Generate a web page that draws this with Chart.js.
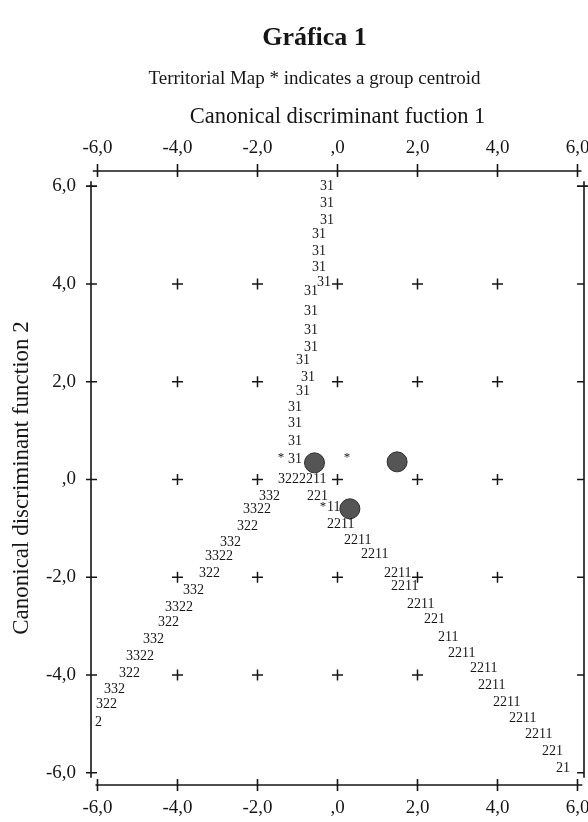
<!DOCTYPE html>
<html>
<head>
<meta charset="utf-8">
<script src="https://cdn.jsdelivr.net/npm/chart.js@4.4.1/dist/chart.umd.min.js"></script>
<style>
  body { margin: 0; background: #fff; }
</style>
</head>
<body>
<canvas id="mapChart" width="588" height="822"></canvas>
<script>
const tickValues = [-6, -4, -2, 0, 2, 4, 6];
const tickLabels = ['-6,0', '-4,0', '-2,0', ',0', '2,0', '4,0', '6,0'];

// territorial boundaries, text (x = left edge of the text)
const region31 = [
  {x: -0.44, y: 6.00, label: '31'}, {x: -0.44, y: 5.65, label: '31'}, {x: -0.44, y: 5.31, label: '31'},
  {x: -0.64, y: 5.02, label: '31'}, {x: -0.64, y: 4.67, label: '31'}, {x: -0.64, y: 4.34, label: '31'},
  {x: -0.51, y: 4.04, label: '31'}, {x: -0.84, y: 3.85, label: '31'}, {x: -0.84, y: 3.43, label: '31'},
  {x: -0.84, y: 3.06, label: '31'}, {x: -0.84, y: 2.71, label: '31'}, {x: -1.04, y: 2.44, label: '31'},
  {x: -0.91, y: 2.08, label: '31'}, {x: -1.04, y: 1.81, label: '31'}, {x: -1.24, y: 1.48, label: '31'},
  {x: -1.24, y: 1.14, label: '31'}, {x: -1.24, y: 0.78, label: '31'}, {x: -1.24, y: 0.42, label: '31'}
];
const region32 = [
  {x: -1.49, y: 0.01, label: '3222211'},
  {x: -1.96, y: -0.34, label: '332'}, {x: -2.36, y: -0.62, label: '3322'}, {x: -2.51, y: -0.95, label: '322'},
  {x: -2.94, y: -1.28, label: '332'}, {x: -3.31, y: -1.58, label: '3322'}, {x: -3.46, y: -1.91, label: '322'},
  {x: -3.86, y: -2.26, label: '332'}, {x: -4.31, y: -2.61, label: '3322'}, {x: -4.49, y: -2.93, label: '322'},
  {x: -4.86, y: -3.26, label: '332'}, {x: -5.29, y: -3.61, label: '3322'}, {x: -5.46, y: -3.96, label: '322'},
  {x: -5.84, y: -4.29, label: '332'}, {x: -6.04, y: -4.61, label: '322'}, {x: -6.06, y: -4.96, label: '2'}
];
const region21 = [
  {x: -0.76, y: -0.34, label: '221'}, {x: -0.26, y: -0.58, label: '11'}, {x: -0.26, y: -0.91, label: '2211'},
  {x: 0.16, y: -1.24, label: '2211'}, {x: 0.59, y: -1.54, label: '2211'}, {x: 1.16, y: -1.91, label: '2211'},
  {x: 1.34, y: -2.19, label: '2211'}, {x: 1.74, y: -2.55, label: '2211'}, {x: 2.16, y: -2.87, label: '221'},
  {x: 2.51, y: -3.22, label: '211'}, {x: 2.76, y: -3.55, label: '2211'}, {x: 3.31, y: -3.86, label: '2211'},
  {x: 3.51, y: -4.21, label: '2211'}, {x: 3.89, y: -4.56, label: '2211'}, {x: 4.29, y: -4.88, label: '2211'},
  {x: 4.69, y: -5.22, label: '2211'}, {x: 5.11, y: -5.57, label: '221'}, {x: 5.46, y: -5.90, label: '21'}
];
const centroidStars = [
  {x: -1.41, y: 0.44, label: '*'}, {x: 0.24, y: 0.44, label: '*'}, {x: -0.36, y: -0.56, label: '*'}
];
const centroids = [
  {x: -0.575, y: 0.34}, {x: 1.49, y: 0.36}, {x: 0.31, y: -0.60}
];
const gridPlus = [
  {x: -4, y: 4}, {x: -2, y: 4}, {x: 0, y: 4}, {x: 2, y: 4}, {x: 4, y: 4},
  {x: -4, y: 2}, {x: -2, y: 2}, {x: 0, y: 2}, {x: 2, y: 2}, {x: 4, y: 2},
  {x: -4, y: 0}, {x: -2, y: 0}, {x: 0, y: 0}, {x: 2, y: 0}, {x: 4, y: 0},
  {x: -4, y: -2}, {x: -2, y: -2}, {x: 0, y: -2}, {x: 2, y: -2}, {x: 4, y: -2},
  {x: -4, y: -4}, {x: -2, y: -4}, {x: 0, y: -4}, {x: 2, y: -4}
];

const ink = '#161616';
const serif = '"Liberation Serif", "DejaVu Serif", serif';

function tickText(value) {
  return tickLabels[tickValues.indexOf(value)];
}
function fixedTicks(scale) {
  scale.ticks = tickValues.map(v => ({value: v}));
}
// fixed axis boxes, no extra room for the end labels
function fitX(height) {
  return s => {
    s.height = height;
    s.paddingLeft = 0;
    s.paddingRight = 0;
  };
}

// axis lines with the cross ticks of the SPSS map
const framePlugin = {
  id: 'frame',
  beforeDatasetsDraw(chart) {
    const {ctx, chartArea, scales: {x, y}} = chart;
    const {left, right, top, bottom} = chartArea;
    ctx.save();
    ctx.strokeStyle = ink;
    ctx.lineWidth = 1.6;
    ctx.beginPath();
    ctx.moveTo(x.getPixelForValue(-6.12), top);
    ctx.lineTo(x.getPixelForValue(6.1), top);
    ctx.moveTo(x.getPixelForValue(-6.05), bottom);
    ctx.lineTo(x.getPixelForValue(6.12), bottom);
    ctx.moveTo(left, y.getPixelForValue(6.1));
    ctx.lineTo(left, y.getPixelForValue(-6.1));
    ctx.moveTo(right, y.getPixelForValue(6.1));
    ctx.lineTo(right, y.getPixelForValue(-6.1));
    tickValues.forEach(v => {
      const px = x.getPixelForValue(v);
      ctx.moveTo(px, top - 7);
      ctx.lineTo(px, top + 6);
      ctx.moveTo(px, bottom - 6);
      ctx.lineTo(px, bottom + 6);
      const py = y.getPixelForValue(v);
      ctx.moveTo(left - 5, py);
      ctx.lineTo(left + 6, py);
      ctx.moveTo(right - 7, py);
      ctx.lineTo(v === 6 ? right + 4 : right, py);
    });
    ctx.stroke();
    ctx.restore();
  }
};

// boundary numbers and centroid stars written as text at their data points
const mapTextPlugin = {
  id: 'mapText',
  afterDatasetsDraw(chart) {
    const ctx = chart.ctx;
    chart.data.datasets.forEach((ds, i) => {
      if (!ds.textFont) return;
      const meta = chart.getDatasetMeta(i);
      ctx.save();
      ctx.font = ds.textFont;
      ctx.fillStyle = ink;
      ctx.textAlign = ds.textAlign;
      ctx.textBaseline = 'middle';
      meta.data.forEach((pt, j) => ctx.fillText(ds.data[j].label, pt.x, pt.y));
      ctx.restore();
    });
  }
};

const textSet = (label, data, align, font) => ({
  label: label,
  data: data,
  pointRadius: 0,
  textFont: font,
  textAlign: align
});

new Chart(document.getElementById('mapChart'), {
  type: 'scatter',
  data: {
    datasets: [
      {
        label: 'grid',
        data: gridPlus,
        pointStyle: 'cross',
        pointRadius: 5.5,
        borderColor: ink,
        borderWidth: 1.5
      },
      {
        label: 'centroids',
        data: centroids,
        pointStyle: 'circle',
        pointRadius: 10,
        backgroundColor: '#555555',
        borderColor: '#2e2e2e',
        borderWidth: 1
      },
      textSet('31', region31, 'left', '14px ' + serif),
      textSet('32', region32, 'left', '14px ' + serif),
      textSet('21', region21, 'left', '14px ' + serif),
      textSet('stars', centroidStars, 'center', '13px ' + serif)
    ]
  },
  options: {
    responsive: false,
    animation: false,
    events: [],
    layout: {autoPadding: false, padding: {left: 45, right: 4, top: 0, bottom: 0}},
    plugins: {
      legend: {display: false},
      tooltip: {enabled: false},
      title: {
        display: true,
        text: 'Gráfica 1',
        color: ink,
        font: {family: serif, size: 26, weight: 'bold'},
        padding: {top: 22.4, bottom: 14}
      },
      subtitle: {
        display: true,
        text: 'Territorial Map * indicates a group centroid',
        color: ink,
        font: {family: serif, size: 19},
        padding: {top: 0, bottom: 0}
      }
    },
    scales: {
      x: {
        type: 'linear',
        position: 'bottom',
        min: -6.1625,
        max: 6.1625,
        afterBuildTicks: fixedTicks,
        afterFit: fitX(37),
        grid: {display: false, drawTicks: false},
        border: {display: false},
        ticks: {callback: tickText, color: ink, font: {family: serif, size: 19}, padding: 11.6, maxRotation: 0, autoSkip: false}
      },
      x2: {
        type: 'linear',
        position: 'top',
        min: -6.1625,
        max: 6.1625,
        afterBuildTicks: fixedTicks,
        afterFit: fitX(80.6),
        grid: {display: false, drawTicks: false},
        border: {display: false},
        title: {display: true, text: 'Canonical discriminant fuction 1', color: ink, font: {family: serif, size: 22.5}, padding: {top: 13.1, bottom: 0}},
        ticks: {callback: tickText, color: ink, font: {family: serif, size: 19}, padding: 11.6, maxRotation: 0, autoSkip: false}
      },
      y: {
        type: 'linear',
        position: 'left',
        min: -6.25,
        max: 6.31,
        afterBuildTicks: fixedTicks,
        afterFit: s => { s.width = 46; s.paddingTop = 0; s.paddingBottom = 0; },
        grid: {display: false, drawTicks: false},
        border: {display: false},
        title: {display: true, text: 'Canonical discriminant function 2', color: ink, font: {family: serif, size: 23}, padding: {top: -36.8, bottom: 0}},
        ticks: {callback: tickText, color: ink, font: {family: serif, size: 19}, padding: 15, autoSkip: false}
      }
    }
  },
  plugins: [framePlugin, mapTextPlugin]
});
</script>
</body>
</html>
